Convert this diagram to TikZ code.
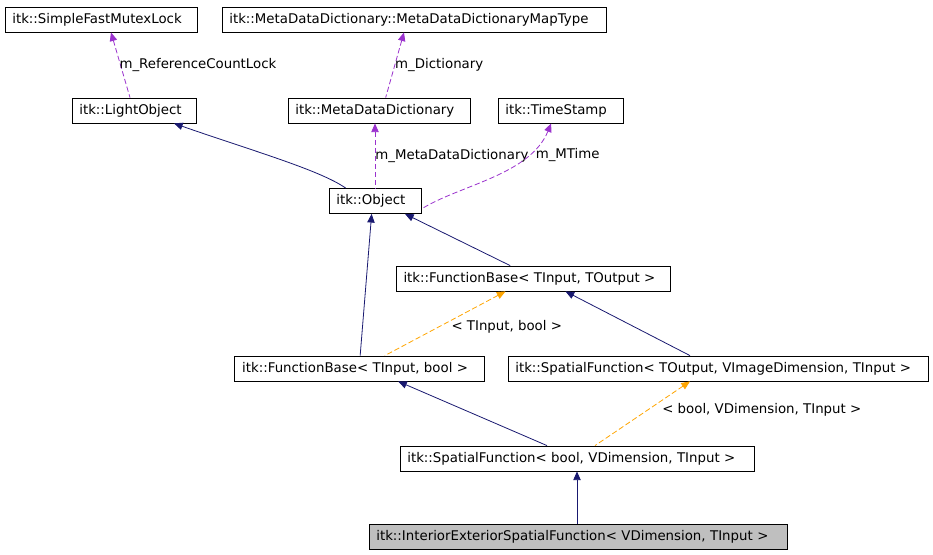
\documentclass[tikz,border=0pt]{standalone}
\usepackage{fontspec}
\setmainfont{DejaVu Sans}
\usetikzlibrary{arrows.meta}
\definecolor{navy}{HTML}{191970}
\definecolor{purp}{HTML}{9A32CD}
\definecolor{org}{HTML}{FFA500}
\begin{document}
\begin{tikzpicture}[x=0.75pt,y=-0.75pt,
 box/.style={draw,line width=0.6pt,inner xsep=5.5pt,inner ysep=0pt,minimum height=18.75pt,font=\fontsize{10}{10}\selectfont,align=left},
 lab/.style={font=\fontsize{10}{10}\selectfont,inner sep=1pt},
 inh/.style={draw=navy,line width=0.6pt,{Triangle[length=6.5pt,width=5.5pt]}-},
 use/.style={draw=purp,dash pattern=on 4pt off 2pt,line width=0.6pt,{Triangle[length=6.5pt,width=5.5pt]}-},
 tpl/.style={draw=org,dash pattern=on 4pt off 2pt,line width=0.6pt,{Triangle[length=6.5pt,width=5.5pt]}-}]
\useasboundingbox (0,0) rectangle (933,555);
\node[box,text width=133pt] (mutex) at (101,19.5) {itk::SimpleFastMutexLock};
\node[box,text width=277pt] (map) at (414,19.5) {itk::MetaDataDictionary::MetaDataDictionaryMapType};
\node[box,text width=82pt] (light) at (134,110.5) {itk::LightObject};
\node[box,text width=125.5pt] (mdd) at (379,110.5) {itk::MetaDataDictionary};
\node[box,text width=82.75pt] (ts) at (560.5,110.5) {itk::TimeStamp};
\node[box,text width=58pt] (obj) at (375,201) {itk::Object};
\node[box,text width=195pt] (fbto) at (533.5,278.5) {itk::FunctionBase< TInput, TOutput >};
\node[box,text width=176pt] (fbb) at (359.5,368.5) {itk::FunctionBase< TInput, bool >};
\node[box,text width=304pt] (sfto) at (718,368.5) {itk::SpatialFunction< TOutput, VImageDimension, TInput >};
\node[box,text width=254.5pt] (sfb) at (577,458.5) {itk::SpatialFunction< bool, VDimension, TInput >};
\node[box,text width=302.5pt,fill=black!25] (ie) at (578,536.5) {itk::InteriorExteriorSpatialFunction< VDimension, TInput >};

\draw[use] ([xshift=7.5pt]mutex.south) -- ([xshift=-3pt]light.north) node[lab,pos=0.5,right=-2pt] {m\_ReferenceCountLock};
\draw[use] ([xshift=-7.5pt]map.south) -- ([xshift=5pt]mdd.north) node[lab,pos=0.5,right=-1pt] {m\_Dictionary};
\draw[inh] ([xshift=30pt]light.south) .. controls (250,150) and (320,170) .. ([xshift=-22pt]obj.north);
\draw[use] (mdd.south -| obj.north) -- (obj.north) node[lab,pos=0.5,right=-1pt] {m\_MetaDataDictionary};
\draw[use] ([xshift=-7pt]ts.south) .. controls (530,175) and (460,185) .. ([yshift=-6pt]obj.east) node[lab,pos=0.25,right=5pt] {m\_MTime};
\draw[inh] ([xshift=-2.5pt]obj.south) -- ([xshift=0.5pt]fbb.north);
\draw[inh] ([xshift=22.5pt]obj.south) -- ([xshift=-17.5pt]fbto.north);
\draw[inh] ([xshift=24pt]fbto.south) -- ([xshift=-21pt]sfto.north);
\draw[tpl] ([xshift=-21pt]fbto.south) -- ([xshift=19pt]fbb.north) node[lab,pos=0.55,right=8pt] {< TInput, bool >};
\draw[inh] ([xshift=29pt]fbb.south) -- ([xshift=-22.5pt]sfb.north);
\draw[tpl] ([xshift=-21pt]sfto.south) -- ([xshift=13.5pt]sfb.north) node[lab,pos=0.45,right=10pt] {< bool, VDimension, TInput >};
\draw[inh] (sfb.south) -- (sfb.south |- ie.north);
\end{tikzpicture}
\end{document}
